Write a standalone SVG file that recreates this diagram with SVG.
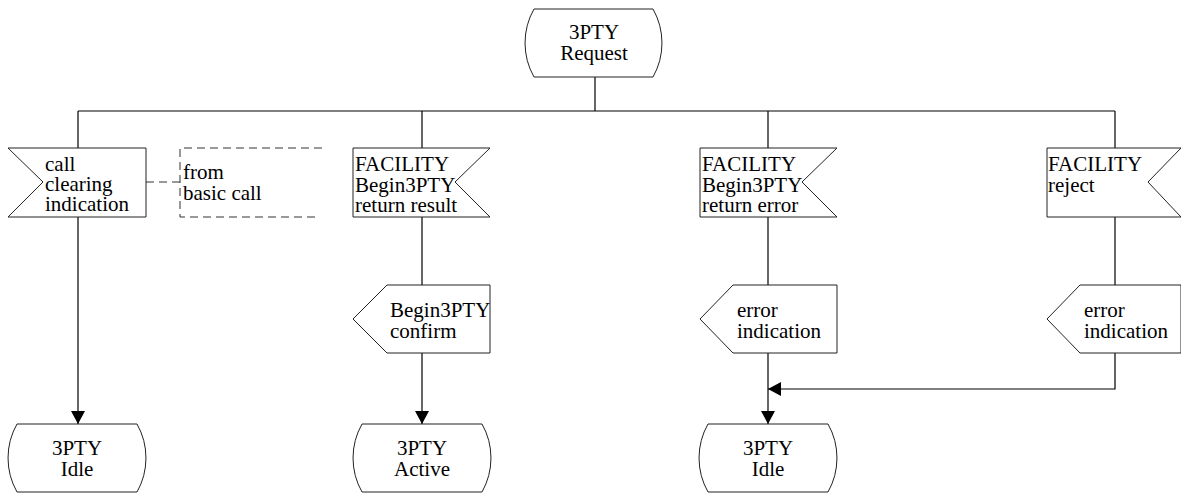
<svg xmlns="http://www.w3.org/2000/svg" width="1181" height="493" viewBox="0 0 1181 493">
  <style>
    .shape { fill: #ffffff; stroke: #222222; stroke-width: 1; }
    .conn { fill: none; stroke: #000000; stroke-width: 1.2; }
    .dash { fill: none; stroke: #333333; stroke-width: 1; stroke-dasharray: 8 5; }
    .lbl { font-family: "Liberation Serif", "Times New Roman", serif; font-size: 21px; fill: #000000; }
    .mid { text-anchor: middle; }
  </style>
  <defs>
    <marker id="arrow" markerUnits="userSpaceOnUse" markerWidth="14" markerHeight="14" refX="13" refY="7" orient="auto">
      <path d="M0,0 L13,7 L0,14 Z" fill="#000000"/>
    </marker>
  </defs>

  <!-- connectors -->
  <g id="connectors">
    <path class="conn" d="M595,77 V111"/>
    <path class="conn" d="M78,111 H1115"/>
    <path class="conn" d="M78,111 V148"/>
    <path class="conn" d="M422,111 V148"/>
    <path class="conn" d="M768,111 V148"/>
    <path class="conn" d="M1115,111 V148"/>
    <path class="conn" d="M78,217 V424" marker-end="url(#arrow)"/>
    <path class="conn" d="M422,217 V285"/>
    <path class="conn" d="M422,353 V424" marker-end="url(#arrow)"/>
    <path class="conn" d="M768,217 V285"/>
    <path class="conn" d="M768,353 V424" marker-end="url(#arrow)"/>
    <path class="conn" d="M1115,217 V285"/>
    <path class="conn" d="M1115,353 V389 H768" marker-end="url(#arrow)"/>
    <path class="dash" d="M146,182 H180"/>
  </g>

  <!-- start state -->
  <g id="state-request">
    <path class="shape" d="M534,9 H653 A69 69 0 0 1 653,77 H534 A69 69 0 0 1 534,9 Z"/>
    <text class="lbl mid" x="594" y="39">3PTY</text>
    <text class="lbl mid" x="594" y="60">Request</text>
  </g>

  <!-- input: call clearing indication -->
  <g id="in-call-clearing">
    <polygon class="shape" points="8,148 146,148 146,217 8,217 43,182"/>
    <text class="lbl" x="45" y="171">call</text>
    <text class="lbl" x="45" y="191">clearing</text>
    <text class="lbl" x="45" y="211">indication</text>
  </g>

  <!-- comment -->
  <g id="comment-basic-call">
    <path class="dash" d="M322,148 H180 V217 H316"/>
    <text class="lbl" x="183" y="179">from</text>
    <text class="lbl" x="183" y="200">basic call</text>
  </g>

  <!-- input: return result -->
  <g id="in-return-result">
    <polygon class="shape" points="353,148 490,148 455,182 490,217 353,217"/>
    <text class="lbl" x="355" y="171">FACILITY</text>
    <text class="lbl" x="355" y="192">Begin3PTY</text>
    <text class="lbl" x="355" y="212">return result</text>
  </g>

  <!-- input: return error -->
  <g id="in-return-error">
    <polygon class="shape" points="700,148 837,148 802,182 837,217 700,217"/>
    <text class="lbl" x="702" y="171">FACILITY</text>
    <text class="lbl" x="702" y="192">Begin3PTY</text>
    <text class="lbl" x="702" y="212">return error</text>
  </g>

  <!-- input: reject -->
  <g id="in-reject">
    <polygon class="shape" points="1047,148 1181,148 1148,182 1181,217 1047,217"/>
    <text class="lbl" x="1048" y="171">FACILITY</text>
    <text class="lbl" x="1048" y="192">reject</text>
  </g>

  <!-- output: Begin3PTY confirm -->
  <g id="out-confirm">
    <polygon class="shape" points="387,285 490,285 490,353 387,353 353,319"/>
    <text class="lbl" x="390" y="317">Begin3PTY</text>
    <text class="lbl" x="390" y="338">confirm</text>
  </g>

  <!-- output: error indication (return error) -->
  <g id="out-error-1">
    <polygon class="shape" points="733,285 837,285 837,353 733,353 700,319"/>
    <text class="lbl" x="737" y="317">error</text>
    <text class="lbl" x="737" y="338">indication</text>
  </g>

  <!-- output: error indication (reject) -->
  <g id="out-error-2">
    <polygon class="shape" points="1080,285 1181,285 1181,353 1080,353 1047,319"/>
    <text class="lbl" x="1084" y="317">error</text>
    <text class="lbl" x="1084" y="338">indication</text>
  </g>

  <!-- end states -->
  <g id="state-idle-1">
    <path class="shape" d="M17,424 H137 A69 69 0 0 1 137,492 H17 A69 69 0 0 1 17,424 Z"/>
    <text class="lbl mid" x="77" y="455">3PTY</text>
    <text class="lbl mid" x="77" y="476">Idle</text>
  </g>

  <g id="state-active">
    <path class="shape" d="M362,424 H482 A69 69 0 0 1 482,492 H362 A69 69 0 0 1 362,424 Z"/>
    <text class="lbl mid" x="422" y="455">3PTY</text>
    <text class="lbl mid" x="422" y="476">Active</text>
  </g>

  <g id="state-idle-2">
    <path class="shape" d="M708,424 H828 A69 69 0 0 1 828,492 H708 A69 69 0 0 1 708,424 Z"/>
    <text class="lbl mid" x="768" y="455">3PTY</text>
    <text class="lbl mid" x="768" y="476">Idle</text>
  </g>
</svg>
